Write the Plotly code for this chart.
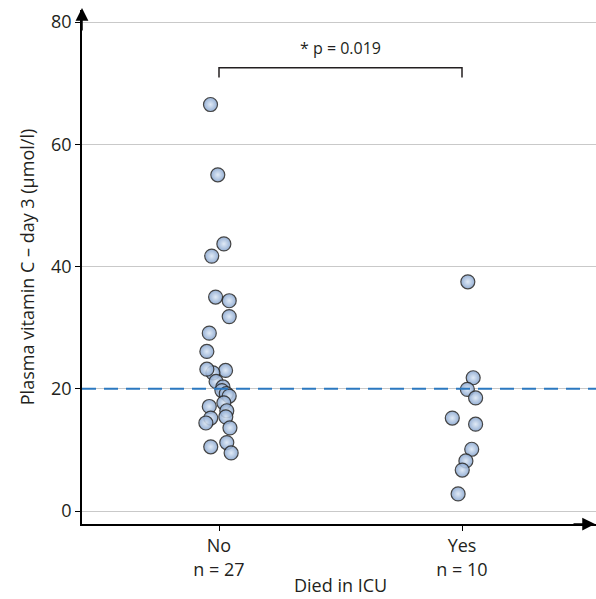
import plotly.graph_objects as go

# ---- data ----
categories = ["No", "Yes"]
tick_labels = ["No<br>n = 27", "Yes<br>n = 10"]

no_values = [66.5, 55.0, 43.7, 41.7, 35.0, 34.4, 31.8, 29.1, 26.1, 23.0, 22.6, 23.2,
             21.2, 20.3, 19.7, 19.2, 18.8, 17.7, 17.1, 16.4, 15.4, 15.2, 14.4, 13.6,
             11.2, 10.5, 9.5]
no_jitter = [-0.035, -0.005, 0.02, -0.03, -0.014, 0.042, 0.042, -0.04, -0.05, 0.027,
             -0.025, -0.05, -0.012, 0.016, 0.012, 0.03, 0.042, 0.02, -0.04, 0.032,
             0.028, -0.034, -0.054, 0.045, 0.032, -0.034, 0.05]

yes_values = [37.5, 21.8, 19.9, 18.5, 15.2, 14.2, 10.1, 8.2, 6.7, 2.8]
yes_jitter = [0.024, 0.046, 0.022, 0.056, -0.04, 0.056, 0.04, 0.016, 0.001, -0.016]

threshold = 20
p_text = "* p = 0.019"
y_ticks = [0, 20, 40, 60, 80]

FONT = "Open Sans"
TXT = "#231f20"

xs = [0 + j for j in no_jitter] + [1 + j for j in yes_jitter]
ys = no_values + yes_values

fig = go.Figure()
fig.add_trace(go.Scatter(
    x=xs, y=ys, mode="markers",
    marker=dict(size=14, color="#88a6d0", opacity=0.88,
                gradient=dict(type="radial", color="#dde8f5"),
                line=dict(color="#2b2b2b", width=1.2)),
    hoverinfo="y", showlegend=False))

# threshold dashed line
fig.add_shape(type="line", xref="paper", yref="y", x0=0, x1=1, y0=threshold, y1=threshold,
              line=dict(color="#2b78c0", width=2, dash="14px,8px"), layer="above")

# significance bracket
fig.add_shape(type="path", xref="x", yref="y",
              path="M 0,70.9 L 0,72.5 L 1,72.5 L 1,70.9",
              line=dict(color=TXT, width=1.5))
fig.add_annotation(x=0.5, y=75.8, xref="x", yref="y", text=p_text, showarrow=False,
                   font=dict(family=FONT, size=16, color=TXT))

# axis arrows
fig.add_annotation(xref="paper", yref="paper", x=1, y=0, ax=-24, ay=0, axref="pixel", ayref="pixel",
                   text="", showarrow=True, arrowhead=2, arrowsize=1.7, arrowwidth=1.5,
                   arrowcolor="#000000")
fig.add_annotation(xref="paper", yref="paper", x=0, y=1.004, ax=0, ay=24, axref="pixel", ayref="pixel",
                   text="", showarrow=True, arrowhead=2, arrowsize=1.7, arrowwidth=1.5,
                   arrowcolor="#000000")

# x axis title
fig.add_annotation(xref="paper", yref="paper", x=(340 - 82) / 514, y=(524 - 585) / 514,
                   text="Died in ICU", showarrow=False, yanchor="middle",
                   font=dict(family=FONT, size=18, color=TXT))

fig.update_layout(
    width=596, height=599,
    margin=dict(l=82, r=0, t=10, b=75),
    paper_bgcolor="white", plot_bgcolor="white",
    font=dict(family=FONT, size=18, color=TXT),
    xaxis=dict(range=[-137 / 243, 377 / 243], tickvals=[0, 1], ticktext=tick_labels,
               showgrid=False, zeroline=False, showline=True, linecolor="#000000", linewidth=1.5,
               ticks="outside", ticklen=5, tickcolor="#000000", tickwidth=1,
               tickfont=dict(family=FONT, size=18, color=TXT)),
    yaxis=dict(range=[-13 / 6.1125, 501 / 6.1125], tickvals=y_ticks,
               showgrid=True, gridcolor="#c9c9c9", gridwidth=1, zeroline=False,
               showline=True, linecolor="#000000", linewidth=1.5,
               ticks="outside", ticklen=5, tickcolor="#000000", tickwidth=1,
               tickfont=dict(family=FONT, size=18, color=TXT),
               title=dict(text="Plasma vitamin C – day 3 (µmol/l)", standoff=12,
                          font=dict(family=FONT, size=18, color=TXT))),
)

fig.write_html("out.html")
